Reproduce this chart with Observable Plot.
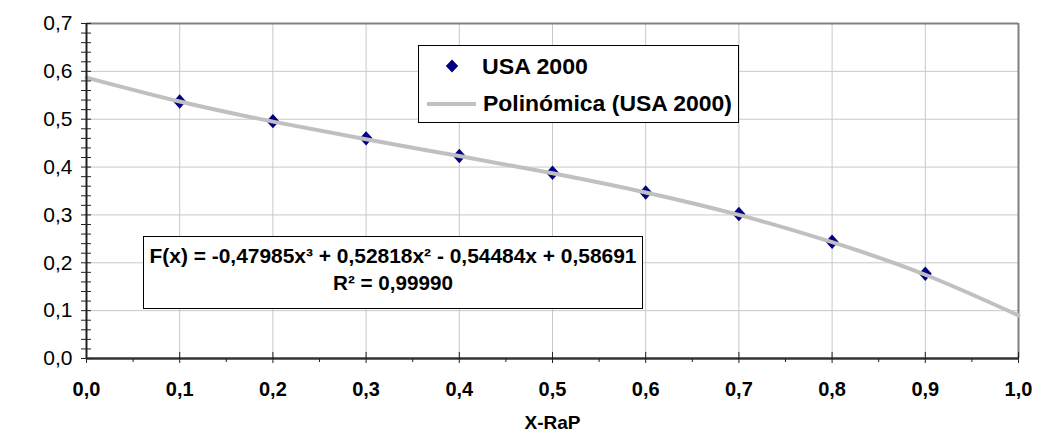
<!DOCTYPE html>
<html>
<head>
<meta charset="utf-8">
<script src="https://cdn.jsdelivr.net/npm/d3@7"></script>
<script src="https://cdn.jsdelivr.net/npm/@observablehq/plot@0.6"></script>
<style>
  html, body { margin: 0; padding: 0; background: #fff; }
  #wrap { position: relative; width: 1041px; height: 440px; }
  #overlay { position: absolute; left: 0; top: 0; pointer-events: none; }
</style>
</head>
<body>
<div id="wrap"></div>
<script>
// ---- data ----
const xValues = [0.1, 0.2, 0.3, 0.4, 0.5, 0.6, 0.7, 0.8, 0.9];
const usa2000 = [0.537, 0.496, 0.460, 0.423, 0.388, 0.347, 0.302, 0.244, 0.177];
const trendX = [0.0, 0.1, 0.2, 0.3, 0.4, 0.5, 0.6, 0.7, 0.8, 0.9, 1.0];
const trendY = [0.587, 0.537, 0.495, 0.458, 0.423, 0.387, 0.347, 0.300, 0.243, 0.175, 0.090];
const yTickValues = [0, 0.1, 0.2, 0.3, 0.4, 0.5, 0.6, 0.7];
const yTickLabels = ["0,0", "0,1", "0,2", "0,3", "0,4", "0,5", "0,6", "0,7"];
const xTickValues = [0, 0.1, 0.2, 0.3, 0.4, 0.5, 0.6, 0.7, 0.8, 0.9, 1.0];
const xTickLabels = ["0,0", "0,1", "0,2", "0,3", "0,4", "0,5", "0,6", "0,7", "0,8", "0,9", "1,0"];
const xTitle = "X-RaP";
const seriesName = "USA 2000";
const trendName = "Polinómica (USA 2000)";
const equationLine1 = "F(x) = -0,47985x³ + 0,52818x² - 0,54484x + 0,58691";
const equationLine2 = "R² = 0,99990";

const points = xValues.map((x, i) => ({x, y: usa2000[i]}));
const trend = trendX.map((x, i) => ({x, y: trendY[i]}));
const yMinor = d3.range(0, 36).map(i => +(i * 0.02).toFixed(2));
const xMinor = d3.range(0, 10).map(i => +(0.05 + i * 0.1).toFixed(2));
const gridXv = xTickValues.slice(1, -1);
const gridYv = yTickValues.slice(1, -1);

const FONT = "'Liberation Sans', Arial, sans-serif";
const navy = "#000080";
const trendGray = "#c0c0c0";
const RATIO = 0.9;

const diamond = {
  draw(ctx, size) {
    const h = Math.sqrt(size / Math.PI);
    const w = h * RATIO;
    ctx.moveTo(0, -h); ctx.lineTo(w, 0); ctx.lineTo(0, h); ctx.lineTo(-w, 0); ctx.closePath();
  }
};

const chart = Plot.plot({
  width: 1041, height: 440,
  marginLeft: 86, marginRight: 23, marginTop: 23, marginBottom: 82,
  style: {fontFamily: FONT, background: "#fff", color: "#000", overflow: "visible"},
  x: {domain: [0, 1], axis: null, label: null},
  y: {domain: [0, 0.7], axis: null, label: null},
  marks: [
    Plot.gridX(gridXv, {stroke: "#c8c8c8", strokeOpacity: 1, strokeWidth: 1}),
    Plot.gridY(gridYv, {stroke: "#c8c8c8", strokeOpacity: 1, strokeWidth: 1}),
    Plot.ruleY([0.7], {stroke: "#808080", strokeWidth: 2}),
    Plot.ruleX([1], {stroke: "#808080", strokeWidth: 2}),
    Plot.dot(points, {x: "x", y: "y", symbol: diamond, r: 7.2, fill: navy}),
    Plot.line(trend, {x: "x", y: "y", stroke: trendGray, strokeWidth: 4, curve: "natural"}),
    // axis lines
    Plot.ruleX([0], {stroke: "#222", strokeWidth: 2}),
    Plot.ruleY([0], {stroke: "#333", strokeWidth: 2.5}),
    // y ticks (crossing)
    Plot.axisY(yMinor, {tickSize: 10, dx: 5, tickFormat: () => "", stroke: "#222", label: null}),
    // y labels
    Plot.axisY(yTickValues, {tickSize: 0, tickPadding: 14, fontSize: 21, label: null,
      tickFormat: d => yTickLabels[Math.round(d * 10)], fill: "#000"}),
    // x major ticks crossing
    Plot.axisX(xTickValues, {tickSize: 11, dy: -6, tickFormat: () => "", stroke: "#222", label: null}),
    // x minor ticks
    Plot.axisX(xMinor, {tickSize: 4, tickFormat: () => "", stroke: "#222", label: null}),
    // x labels
    Plot.axisX(xTickValues, {tickSize: 0, tickPadding: 23, fontSize: 20, fontWeight: "bold",
      tickFormat: d => xTickLabels[Math.round(d * 10)], fill: "#000", label: null}),
    Plot.text([xTitle], {frameAnchor: "bottom", dy: 70, fontSize: 19, fontWeight: "bold", fill: "#000"})
  ]
});

const wrap = document.getElementById("wrap");
wrap.appendChild(chart);

// ---- legend and equation boxes (overlay) ----
const ns = "http://www.w3.org/2000/svg";
const ov = document.createElementNS(ns, "svg");
ov.setAttribute("id", "overlay");
ov.setAttribute("width", 1041);
ov.setAttribute("height", 440);
ov.style.fontFamily = FONT;
function el(tag, attrs, text) {
  const e = document.createElementNS(ns, tag);
  for (const k in attrs) e.setAttribute(k, attrs[k]);
  if (text != null) e.textContent = text;
  ov.appendChild(e);
  return e;
}
// legend
el("rect", {x: 418.5, y: 45.5, width: 320, height: 77, fill: "#fff", stroke: "#000", "stroke-width": 1});
const lh = 6.4, lw = 6.2;
el("path", {d: `M452,${66 - lh}L${452 + lw},66L452,${66 + lh}L${452 - lw},66Z`, fill: navy});
el("text", {x: 482, y: 74, "font-size": 22, "font-weight": "bold", textLength: 106, lengthAdjust: "spacingAndGlyphs"}, seriesName);
el("line", {x1: 427, x2: 476, y1: 104, y2: 104, stroke: trendGray, "stroke-width": 4});
el("text", {x: 483, y: 111, "font-size": 22, "font-weight": "bold", textLength: 249, lengthAdjust: "spacingAndGlyphs"}, trendName);
// equation
el("rect", {x: 143.5, y: 236.5, width: 499, height: 72, fill: "#fff", stroke: "#000", "stroke-width": 1});
el("text", {x: 393, y: 263, "font-size": 20, "font-weight": "bold", "text-anchor": "middle", textLength: 487, lengthAdjust: "spacingAndGlyphs"}, equationLine1);
el("text", {x: 393, y: 290, "font-size": 20, "font-weight": "bold", "text-anchor": "middle", textLength: 120, lengthAdjust: "spacingAndGlyphs"}, equationLine2);
wrap.appendChild(ov);
</script>
</body>
</html>
